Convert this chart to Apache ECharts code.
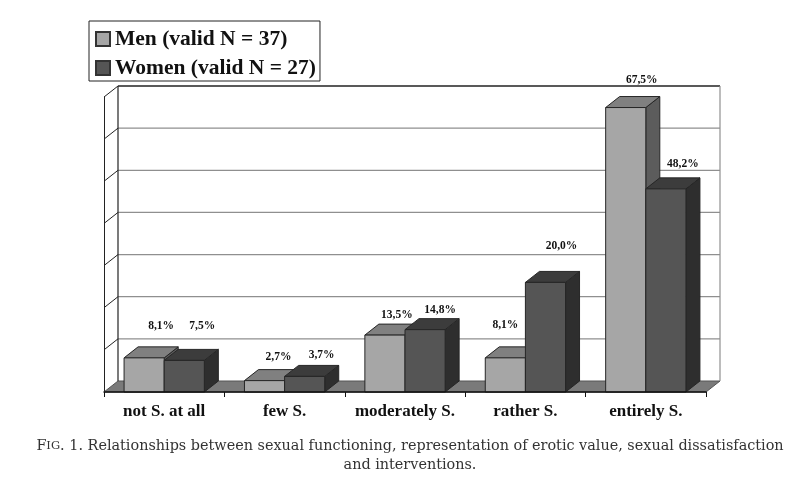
<!DOCTYPE html>
<html><head><meta charset="utf-8">
<style>html,body{margin:0;padding:0;background:#fff}#c{width:800px;height:481px}</style>
<script src="https://cdn.jsdelivr.net/npm/echarts@6/dist/echarts.min.js"></script>
</head><body><div id="c"></div>
<script>
const categories = ['not S. at all','few S.','moderately S.','rather S.','entirely S.'];
const menValues = [8.1,2.7,13.5,8.1,67.5];
const womenValues = [7.5,3.7,14.8,26,48.2];
const menLabels = ['8,1%','2,7%','13,5%','8,1%','67,5%'];
const womenLabels = ['7,5%','3,7%','14,8%','20,0%','48,2%'];
const yTicks = [0,10,20,30,40,50,60,70];
const menLabelShift = [[17,32],[14,24],[12,20],[0,33],[16,28]];
const womenLabelShift = [[18,34],[17,21],[15,20],[16,36],[17,25]];
const DX = 14, DY = 11;
const serif = '"Liberation Serif","DejaVu Serif",serif';
const captionFont = '"DejaVu Serif",serif';

function wall(params, api){
  const v = api.value(0), cs = params.coordSys;
  const y = api.coord([0, v])[1], L = cs.x, R = cs.x + cs.width;
  const out = [];
  if (v === 0) {
    out.push({type:'polygon',shape:{points:[[L,y],[R,y],[R+DX,y-DY],[L+DX,y-DY]]},style:{fill:'#7a7a7a',stroke:'#555',lineWidth:1}});
    return {type:'group',children:out};
  }
  const top = v === yTicks[yTicks.length-1];
  out.push({type:'line',shape:{x1:L+DX,y1:y-DY,x2:R+DX,y2:y-DY},style:{stroke:top?'#222':'#8f8f8f',lineWidth:top?1.5:1.2}});
  out.push({type:'line',shape:{x1:L,y1:y,x2:L+DX,y2:y-DY},style:{stroke:'#222',lineWidth:1}});
  if (top) {
    const y0 = api.coord([0,0])[1];
    out.push({type:'line',shape:{x1:L+DX,y1:y-DY,x2:L+DX,y2:y0-DY},style:{stroke:'#222',lineWidth:1.2}});
    out.push({type:'line',shape:{x1:R+DX,y1:y-DY,x2:R+DX,y2:y0-DY},style:{stroke:'#8f8f8f',lineWidth:1.2}});
  }
  return {type:'group',children:out};
}
function barRenderer(side, front, topC, sideC, labels, shifts){
  return function(params, api){
    const i = api.value(0), v = api.value(1);
    const p = api.coord([i, v]), b = api.coord([i, 0]);
    const w = api.size([1,0])[0] / 3;
    const x0 = side === 0 ? p[0]-w : p[0], x1 = x0 + w, yt = p[1], yb = b[1];
    const bd = {stroke:'#262626',lineWidth:1};
    return {type:'group',children:[
      {type:'polygon',shape:{points:[[x1,yt],[x1+DX,yt-DY],[x1+DX,yb-DY],[x1,yb]]},style:Object.assign({fill:sideC},bd)},
      {type:'polygon',shape:{points:[[x0,yt],[x0+DX,yt-DY],[x1+DX,yt-DY],[x1,yt]]},style:Object.assign({fill:topC},bd)},
      {type:'rect',shape:{x:x0,y:yt,width:w,height:yb-yt},style:Object.assign({fill:front},bd)},
      {type:'text',x:(x0+x1)/2+shifts[i][0],y:yt-shifts[i][1],z2:50,
       style:{text:labels[i],fill:'#111',font:'bold 11.5px '+serif,textAlign:'center',textVerticalAlign:'middle'}}
    ]};
  };
}
const chart = echarts.init(document.getElementById('c'),null,{renderer:'canvas'});
chart.setOption({
  animation:false,
  backgroundColor:'#fff',
  title:{
    left:405,top:432,textAlign:'center',
    text:'{a|F}{b|IG}{a|. 1. Relationships between sexual functioning, representation of erotic value, sexual dissatisfaction}\n{a|and interventions.}',
    textStyle:{fontWeight:'normal',rich:{
      a:{fontFamily:captionFont,fontWeight:'normal',fontSize:14.4,color:'#333',lineHeight:19},
      b:{fontFamily:captionFont,fontWeight:'normal',fontSize:11.5,color:'#333',lineHeight:19}}}
  },
  legend:{
    left:89,top:21,orient:'vertical',icon:'rect',
    data:['Men (valid N = 37)','Women (valid N = 27)'],
    itemWidth:14,itemHeight:14,itemGap:7,padding:[7,4,2,6],
    borderColor:'#222',borderWidth:1,backgroundColor:'#fff',
    textStyle:{fontFamily:serif,fontWeight:'bold',fontSize:21.5,color:'#111'},
    selectedMode:false
  },
  grid:{left:104,right:94,top:97,bottom:89},
  xAxis:{type:'category',data:categories,
    axisLine:{lineStyle:{color:'#111',width:1.5}},
    axisTick:{show:true,length:5,alignWithLabel:false,lineStyle:{color:'#111'}},
    axisLabel:{fontFamily:serif,fontWeight:'bold',fontSize:17,color:'#111',margin:11,interval:0},
    z:10
  },
  yAxis:{type:'value',min:0,max:70,interval:10,
    axisLine:{show:true,lineStyle:{color:'#222',width:1}},axisTick:{show:false},axisLabel:{show:false},splitLine:{show:false}},
  series:[
    {type:'custom',name:'walls',z:1,clip:false,silent:true,coordinateSystem:'cartesian2d',data:yTicks.map(v=>[v]),encode:{x:-1,y:0},renderItem:wall},
    {type:'custom',name:'Men (valid N = 37)',z:2,clip:false,coordinateSystem:'cartesian2d',itemStyle:{color:'#a6a6a6',borderColor:'#333',borderWidth:1},
     data:menValues.map((v,i)=>[i,v]),encode:{x:0,y:1},
     renderItem:barRenderer(0,'#a6a6a6','#808080','#5c5c5c',menLabels,menLabelShift)},
    {type:'custom',name:'Women (valid N = 27)',z:3,clip:false,coordinateSystem:'cartesian2d',itemStyle:{color:'#555555',borderColor:'#333',borderWidth:1},
     data:womenValues.map((v,i)=>[i,v]),encode:{x:0,y:1},
     renderItem:barRenderer(1,'#555555','#3c3c3c','#2e2e2e',womenLabels,womenLabelShift)}
  ]
});
</script></body></html>
